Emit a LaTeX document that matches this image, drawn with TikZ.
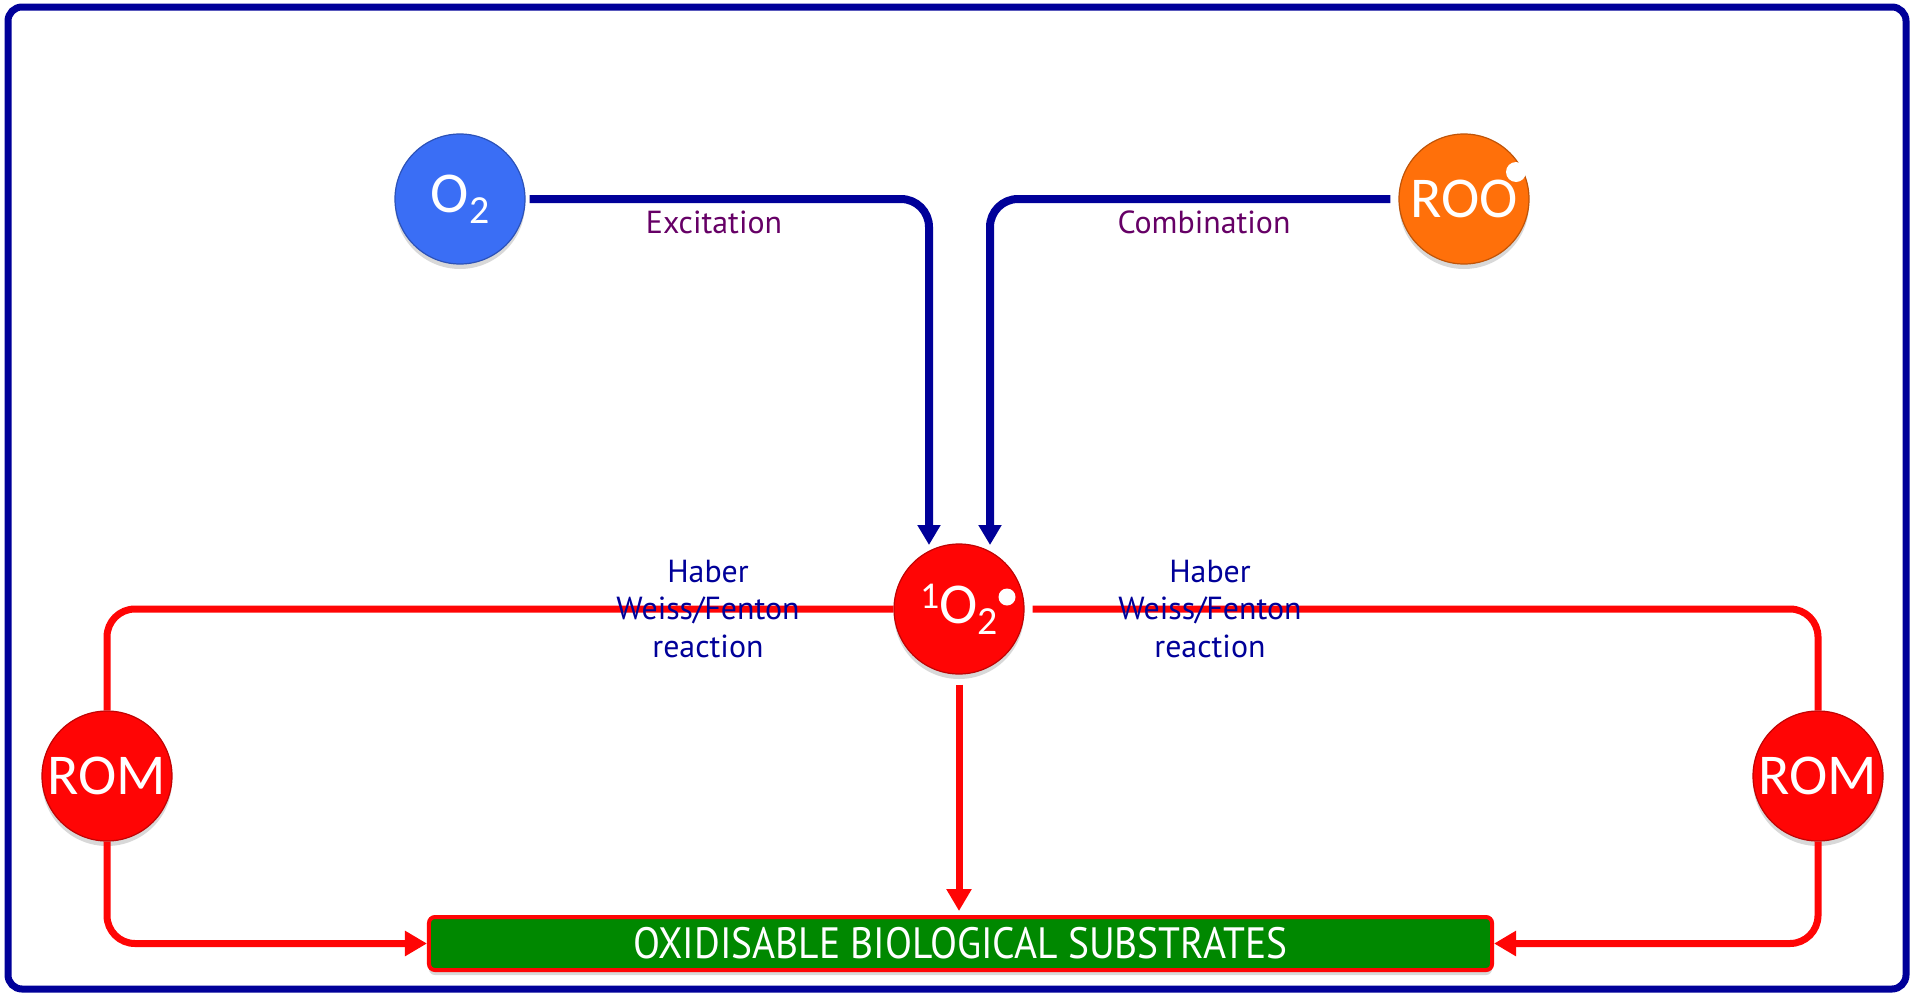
\documentclass[tikz,border=0pt]{standalone}
\usepackage{fontspec}
\setmainfont{PT Sans}
\newfontfamily\calfont{Carlito}
\usetikzlibrary{arrows.meta,shadows}
\definecolor{navyc}{RGB}{0,0,153}
\definecolor{purp}{RGB}{102,0,102}
\definecolor{blueb}{RGB}{58,110,245}
\definecolor{orangeb}{RGB}{255,112,10}
\definecolor{redb}{RGB}{255,5,5}
\definecolor{greenb}{RGB}{0,136,0}
\tikzset{
  ball/.style={circle, minimum size=130bp, inner sep=0pt, draw=#1!75!black, line width=1.2bp, fill=#1, text=white,
    font=\calfont\fontsize{58}{58}\selectfont,
    drop shadow={shadow xshift=0bp, shadow yshift=-5bp, opacity=0.3}},
  navyline/.style={draw=navyc, line width=8bp, rounded corners=28bp, -{Triangle[length=20bp,width=22bp]}},
  redline/.style={draw=redb, line width=7bp, rounded corners=28bp},
  redarrow/.style={redline, -{Triangle[length=22bp,width=24bp]}},
  lbl/.style={text=purp, font=\fontsize{32}{38}\selectfont},
  hw/.style={text=navyc, align=center, font=\fontsize{32}{38}\selectfont},
  wdot/.style={circle, fill=white, minimum size=#1, inner sep=0pt}
}
\begin{document}
\begin{tikzpicture}[x=1bp,y=-1bp]
\fill[white] (0,0) rectangle (1911,995);
\useasboundingbox (0,0) rectangle (1911,995);
\draw[navyc, line width=7bp, rounded corners=14bp] (8,7) rectangle (1906,989);

\node[ball=blueb] (o2) at (460,199) {O\raisebox{-11bp}{\fontsize{40}{40}\selectfont 2}};
\node[ball=orangeb] (roo) at (1464,199) {ROO};
\node[ball=redb] (so) at (959,609) {\raisebox{15bp}{\fontsize{38}{38}\selectfont 1}O\raisebox{-11bp}{\fontsize{40}{40}\selectfont 2}};
\node[ball=redb] (roml) at (107,776) {ROM};
\node[ball=redb] (romr) at (1818,776) {ROM};
\node[wdot=20bp] (d1) at (1516,172) {};
\node[wdot=17bp] (d2) at (1007,597) {};

\node[draw=redb, line width=4bp, fill=greenb, rounded corners=6bp, minimum width=1063bp, minimum height=53bp,
  inner sep=0pt, text=white, font=\fontsize{44}{44}\selectfont,
  drop shadow={shadow xshift=0bp, shadow yshift=-5bp, opacity=0.3}] (sub) at (960.5,943.5) {\scalebox{0.9}[1]{OXIDISABLE BIOLOGICAL SUBSTRATES}};

\coordinate (t1) at (929,545);
\coordinate (t2) at (990,545);
\draw[navyline] ([xshift=4bp]o2.east) -| (t1);
\draw[navyline] ([xshift=-8bp]roo.west) -| (t2);

\draw[redline] (so.west) -| (roml.north);
\draw[redline] ([xshift=8bp]so.east) -| (romr.north);
\draw[redarrow] (roml.south) |- (sub.west);
\draw[redarrow] (romr.south) |- (sub.east);
\draw[redarrow] ([yshift=-10bp]so.south) -- ([yshift=4bp]so.south |- sub.north);

\node[lbl] (exc) at (714,222) {Excitation};
\node[lbl] (comb) at (1204,222) {Combination};
\node[hw] (hw1) at (708,609) {Haber\\Weiss/Fenton\\reaction};
\node[hw] (hw2) at (1210,609) {Haber\\Weiss/Fenton\\reaction};
\end{tikzpicture}
\end{document}
